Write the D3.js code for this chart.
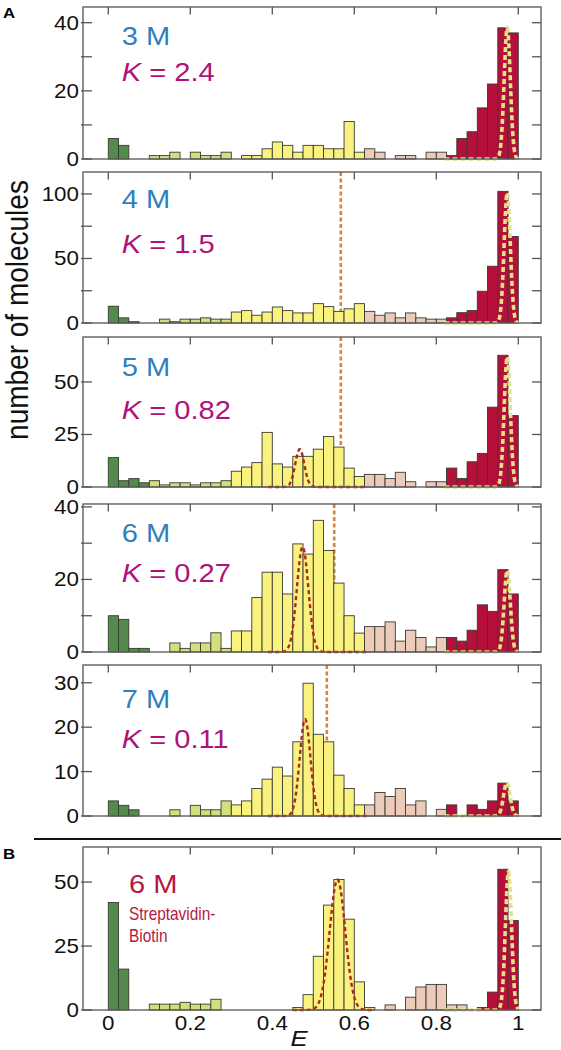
<!DOCTYPE html>
<html><head><meta charset="utf-8">
<script src="https://cdn.jsdelivr.net/npm/d3@7"></script>
<style>body{margin:0;background:#fff;} svg{display:block;font-family:"Liberation Sans",Arial,sans-serif;}</style>
</head><body><svg id="c" width="561" height="1050"></svg>
<script>
// ---------------- DATA ----------------
const binWidth = 0.025;               // FRET efficiency bin width (40 bins 0..1)
const denaturant = ["3 M", "4 M", "5 M", "6 M", "7 M", "6 M"];
const kValues = ["2.4", "1.5", "0.82", "0.27", "0.11", null];
const panelTag = ["A", null, null, null, null, "B"];

const counts3M = [6,4,0,0,1,1,2,0,2,1,1,2,0,1,1,3,5,4,2,4,4,3,3,11,2,3,2,0,1,1,0,2,2,1,6,8,15,22,38.5,37];
const counts4M = [13,4,1,0,0,3,1,3,3,4,3,3,8.5,9.6,6,8.5,12.4,9.6,7.8,7.8,15,12.7,9,11,15,9,6,7.8,4,7.8,4,3,3,4,8,9.6,24.6,44,102,67];
const counts5M = [14,3,4,2,3,1,2,2,1,2,2,3,7.5,9.5,11.6,26,11,9.5,14.6,14.6,18,24,19,9,5,6,6,4,7,2.5,0,2.5,2.5,9,4,12,16,38,62.7,34];
const counts6M = [10,9,1,1,0,0,2.5,1,2.5,2.5,5.3,1,5.8,5.8,15,22,22,16,29.8,27,36.3,28,19,10,5.2,7,7,8.3,3,6,4,1.4,4,4,3,6,13,11.2,22.7,16];
const counts7M = [3.4,2.4,1.4,0,0,0,1.4,0,2.4,1.4,1.4,3.4,2.5,3.4,6.2,8.3,11,9,16.7,29.9,18.4,16.7,9.2,6.2,2.5,2.5,5.3,4.4,6.2,2.5,3.4,0,1.5,2.5,0,2.5,1.5,3.4,7.4,3.4];
const countsSA = [42,16,0,0,2.3,2.3,2.3,3,2.3,2.3,4.2,0,0,0,0,0,0,0,1,6,21,41,51,35.5,11,1,0,2,0,5,9,10,10,2,2,0,1,7,55,35];
const allCounts = [counts3M, counts4M, counts5M, counts6M, counts7M, countsSA];

// first bin index of each population: [donor-only, low-E, intermediate, high-E-2, folded]
const popStart3M = [0,3,12,25,33];
const popStart4M = [0,3,12,25,33];
const popStart5M = [0,4,12,25,33];
const popStart6M = [0,4,12,25,33];
const popStart7M = [0,3,12,25,33];
const popStartSA = [0,4,12,26,36];
const allPopStart = [popStart3M, popStart4M, popStart5M, popStart6M, popStart7M, popStartSA];

// Gaussian fits (folded peak, pale dashed) per panel
const foldedFitCenter = [0.973, 0.973, 0.973, 0.973, 0.972, 0.976];
const foldedFitSigma  = [0.0075, 0.0075, 0.0075, 0.0075, 0.008, 0.0075];
const foldedFitAmp    = [38.5, 101, 62, 22.5, 7.5, 54];
const foldedFitRange  = [0.82, 1.0];
// Gaussian fits (intermediate peak, red dashed)
const interFitCenter = [null, null, 0.467, 0.474, 0.480, 0.559];
const interFitSigma  = [null, null, 0.011, 0.014, 0.013, 0.019];
const interFitAmp    = [null, null, 18, 29, 21.8, 51];
const interFitLo     = [null, null, 0.39, 0.39, 0.39, 0.45];
const interFitHi     = [null, null, 0.63, 0.63, 0.63, 0.645];
// transfer efficiency threshold (orange dashed)
const thresholdE = [null, 0.567, 0.567, 0.551, 0.533, null];

const yTicks = [[0,10,20,30,40],[0,25,50,75,100],[0,25,50],[0,10,20,30,40],[0,10,20,30],[0,25,50]];
const yTickLabels = [[0,20,40],[0,50,100],[0,25,50],[0,20,40],[0,10,20,30],[0,25,50]];
const xTicks = [0,0.2,0.4,0.6,0.8,1];
const xTickLabels = ["0","0.2","0.4","0.6","0.8","1"];
const yMax = [44.6, 117, 71.4, 40.8, 34, 63.7];

// ---------------- LAYOUT / STYLE ----------------
const panelTop    = [7, 172, 337, 504, 665, 847];
const panelBottom = [159, 323, 487, 652, 816, 1010];
const labelOff1 = [38.4, 36, 39.4, 37.7, 43];
const labelOff2 = [74.4, 81, 82, 77.7, 83];
const frameL = 83, frameR = 541;
const popColors = ["#538b4d", "#d3df7c", "#faf27e", "#edcbbb", "#b5103a"];
const SX = 1.12;

const svg = d3.select("#c");
svg.append("rect").attr("width",561).attr("height",1050).attr("fill","#fff");
const x = d3.scaleLinear().domain([0,1]).range([108.3, 518.3]);

function txt(parent, px, py, s, size, opts = {}) {
  const t = parent.append("text")
    .attr("transform", `translate(${px},${py}) scale(${opts.sx || SX},1)`)
    .attr("font-size", size)
    .attr("fill", opts.fill || "#111")
    .attr("text-anchor", opts.anchor || "start");
  if (opts.weight) t.attr("font-weight", opts.weight);
  if (opts.style) t.attr("font-style", opts.style);
  if (s !== null) t.text(s);
  return t;
}

allCounts.forEach((counts, p) => {
  const g = svg.append("g");
  const top = panelTop[p], bot = panelBottom[p];
  const y = d3.scaleLinear().domain([0, yMax[p]]).range([bot, top]);

  // threshold line (behind bars)
  if (thresholdE[p] !== null) {
    g.append("line").attr("x1", x(thresholdE[p])).attr("x2", x(thresholdE[p]))
      .attr("y1", top).attr("y2", bot)
      .attr("stroke", "#d9843a").attr("stroke-width", 2.6).attr("stroke-dasharray", "4,2.5");
  }

  // bars
  const starts = allPopStart[p];
  const popOf = i => d3.bisectRight(starts, i) - 1;
  const bins = counts.map((c, i) => ({i, c})).filter(d => d.c > 0);
  g.selectAll("rect.bar").data(bins).join("rect")
    .attr("class","bar")
    .attr("x", d => x(d.i * binWidth))
    .attr("width", d => x((d.i + 1) * binWidth) - x(d.i * binWidth))
    .attr("y", d => y(d.c))
    .attr("height", d => y(0) - y(d.c))
    .attr("fill", d => popColors[popOf(d.i)])
    .attr("stroke", "#3a3a30").attr("stroke-width", 0.9);

  const line = d3.line().x(d => x(d[0])).y(d => y(d[1])).curve(d3.curveLinear);
  // intermediate fit
  if (interFitCenter[p] !== null) {
    const pts = d3.range(interFitLo[p], interFitHi[p] + 1e-9, 0.001).map(e =>
      [e, interFitAmp[p] * Math.exp(-Math.pow(e - interFitCenter[p], 2) / (2 * interFitSigma[p] ** 2))]);
    g.append("path").attr("d", line(pts)).attr("fill","none")
      .attr("stroke", "#b3261c").attr("stroke-width", 2.4).attr("stroke-dasharray", "4,3");
  }
  // folded fit
  {
    const pts = d3.range(foldedFitRange[0], foldedFitRange[1] + 1e-9, 0.0005).map(e =>
      [e, foldedFitAmp[p] * Math.exp(-Math.pow(e - foldedFitCenter[p], 2) / (2 * foldedFitSigma[p] ** 2))]);
    g.append("path").attr("d", line(pts)).attr("fill","none")
      .attr("stroke", "#e2e385").attr("stroke-width", 3.6).attr("stroke-dasharray", "5,3");
  }

  // frame
  g.append("rect").attr("x", frameL).attr("y", top).attr("width", frameR - frameL).attr("height", bot - top)
    .attr("fill","none").attr("stroke","#606060").attr("stroke-width",1.4);

  // top ticks (inward)
  g.selectAll("line.xt").data(xTicks).join("line").attr("class","xt")
    .attr("x1", d => x(d)).attr("x2", d => x(d)).attr("y1", top).attr("y2", top + 7.5)
    .attr("stroke","#555").attr("stroke-width",1.3);
  // left/right y ticks
  g.selectAll("line.yl").data(yTicks[p]).join("line").attr("class","yl")
    .attr("x1", frameL - 2).attr("x2", frameL + 9).attr("y1", d => y(d)).attr("y2", d => y(d))
    .attr("stroke","#555").attr("stroke-width",1.3);
  g.selectAll("line.yr").data(yTicks[p]).join("line").attr("class","yr")
    .attr("x1", frameR - 9).attr("x2", frameR).attr("y1", d => y(d)).attr("y2", d => y(d))
    .attr("stroke","#555").attr("stroke-width",1.3);
  yTickLabels[p].forEach(v => {
    txt(g, 79, y(v) + 7, String(v), 20, {anchor: "end"});
  });

  // panel labels
  if (p < 5) {
    txt(g, 121.7, top + labelOff1[p], denaturant[p], 26, {fill: "#2f7fbf"});
    const t = txt(g, 121.7, top + labelOff2[p], null, 26, {fill: "#b0127a"});
    t.append("tspan").attr("font-style","italic").text("K");
    t.append("tspan").text(" = " + kValues[p]);
  } else {
    txt(g, 129, 893, denaturant[p], 26, {fill: "#b5173f"});
    txt(g, 129, 920, "Streptavidin-", 17.5, {fill: "#b5173f", sx: 0.88});
    txt(g, 129, 942, "Biotin", 17.5, {fill: "#b5173f", sx: 0.88});
  }
  if (panelTag[p]) {
    txt(g, 3, p === 0 ? 18 : 859, panelTag[p], 15, {weight: "bold", fill: "#000"});
  }
});

// x tick labels under panel B
xTicks.forEach((v, k) => txt(svg, x(v), 1030, xTickLabels[k], 20, {anchor: "middle"}));
// axis titles
txt(svg, 299, 1046, "E", 23, {anchor: "middle", style: "italic"});
svg.append("text")
  .attr("transform", "translate(28,310) scale(1.1,1) rotate(-90)")
  .attr("text-anchor","middle").attr("font-size", 28).attr("fill","#111")
  .text("number of molecules");
// separator between A and B
svg.append("line").attr("x1", 34).attr("x2", 561).attr("y1", 839).attr("y2", 839)
  .attr("stroke","#111").attr("stroke-width",2);
</script></body></html>
